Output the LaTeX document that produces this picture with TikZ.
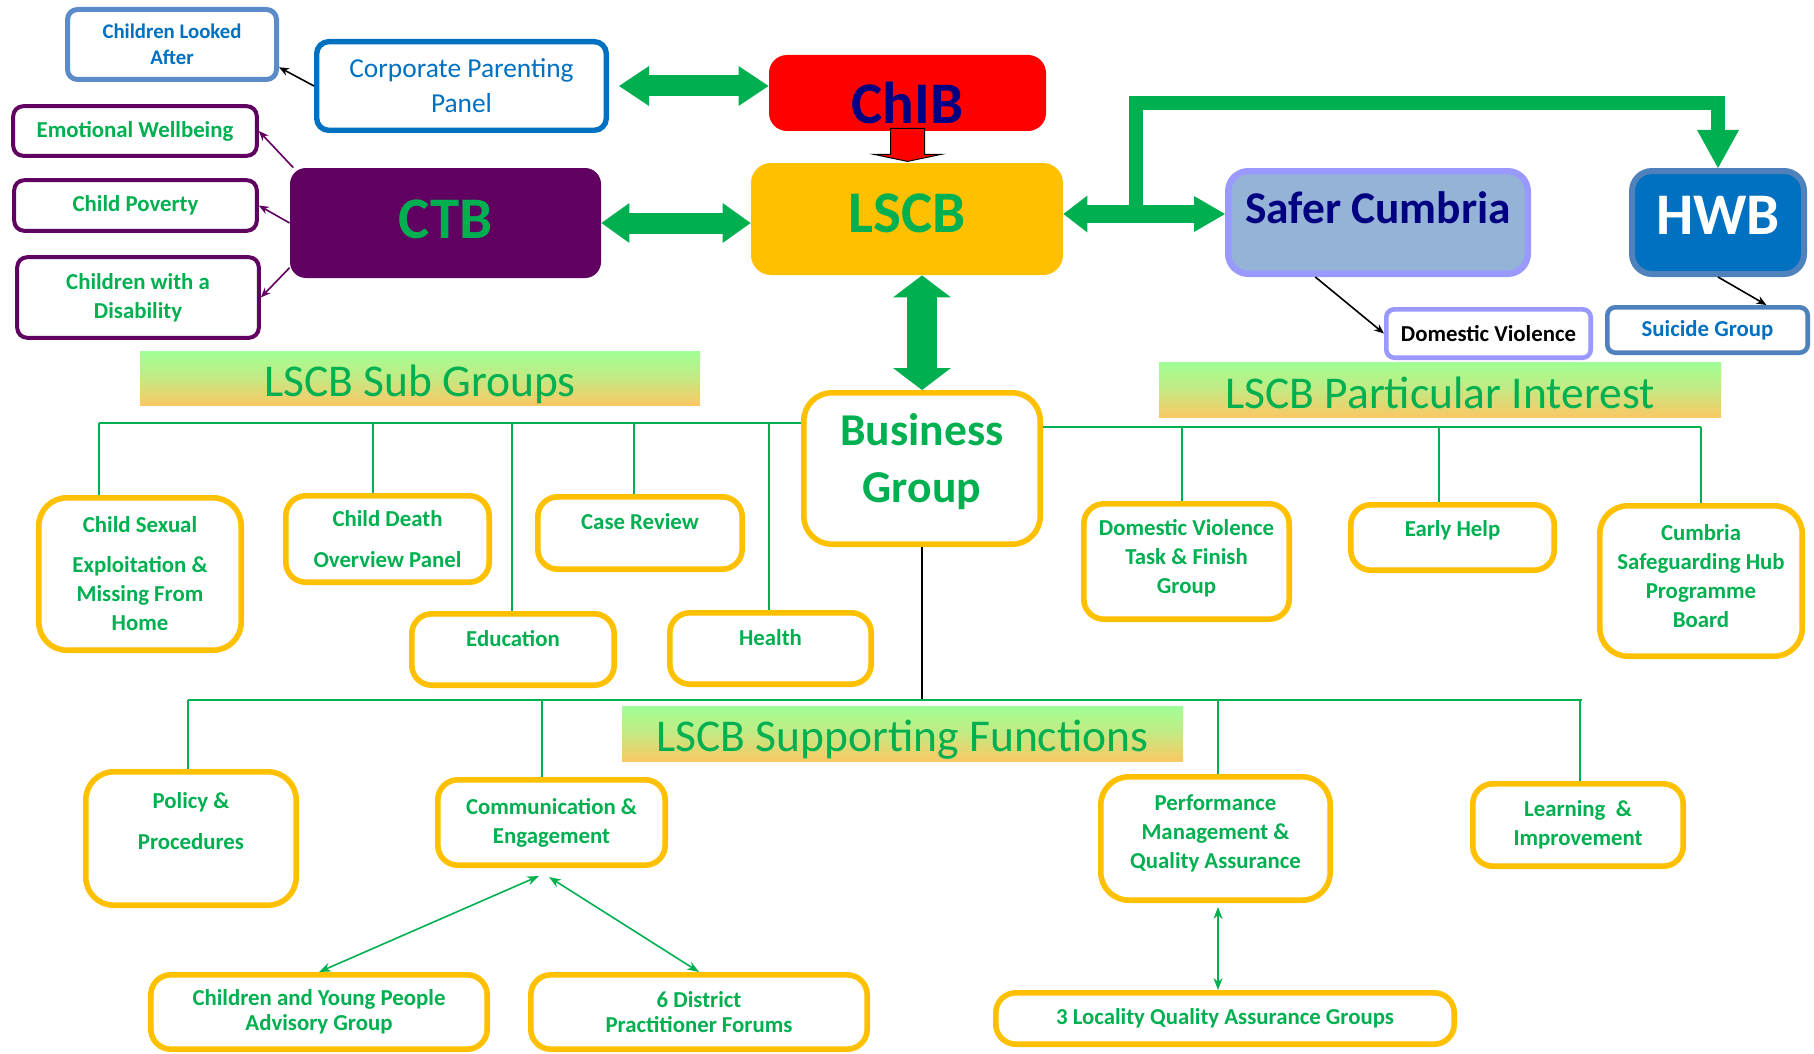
\documentclass[tikz,border=0pt]{standalone}
\usepackage{fontspec}
\setmainfont{Carlito}
\usepackage{tikz}
\usetikzlibrary{arrows.meta}

\definecolor{lscbgreen}{HTML}{00B050}
\definecolor{lscbyellow}{HTML}{FFC000}
\definecolor{ctbpurple}{HTML}{600060}
\definecolor{clablue}{HTML}{5B8BC8}
\definecolor{textblue}{HTML}{0070C0}
\definecolor{navytext}{HTML}{000080}
\definecolor{scfill}{HTML}{95B3D7}
\definecolor{scborder}{HTML}{9999FF}
\definecolor{hwbborder}{HTML}{4F81BD}
\definecolor{bannertop}{HTML}{A0FF96}
\definecolor{bannerbottom}{HTML}{FAC864}

\newcommand{\nudge}[2]{\raisebox{#1}[\height][\depth]{#2}}
\newcommand{\deeper}[1]{\rule[-#1]{0pt}{#1}}
\newcommand{\branch}[2]{
  \draw [treeline] (#1) to (#2)
}

\tikzset{
  subbox/.style={draw=lscbyellow, line width=2.8pt, rounded corners=10pt,
    fill=white, align=center, text=lscbgreen, inner sep=0pt,
    font=\fontsize{11.4}{14.5}\selectfont\bfseries},
  ctbbox/.style={draw=ctbpurple, line width=2pt, rounded corners=5pt,
    fill=white, align=center, text=lscbgreen, inner sep=0pt,
    font=\fontsize{11.4}{14.5}\selectfont\bfseries},
  bigbox/.style={rounded corners=9pt, inner sep=0pt,
    font=\fontsize{29.5}{34}\selectfont\bfseries},
  smallbox/.style={line width=2.3pt, rounded corners=4pt, fill=white,
    inner sep=0pt, font=\fontsize{11.4}{14}\selectfont\bfseries},
  banner/.style={top color=bannertop, bottom color=bannerbottom,
    middle color=bannertop!60!bannerbottom, inner sep=0pt, text=lscbgreen,
    font=\fontsize{22.75}{26}\selectfont},
  fat/.style={draw=lscbgreen, line join=miter},
  treeline/.style={draw=lscbgreen, line width=0.7pt},
  thinarrow/.style={line width=0.8pt, -{Stealth[length=5pt,width=4pt]}},
  twoway/.style={draw=lscbgreen, line width=0.8pt,
    {Stealth[length=6pt,width=4.5pt]}-{Stealth[length=6pt,width=4.5pt]}},
}

\begin{document}
\begin{tikzpicture}[x=0.5pt, y=-0.5pt]
\useasboundingbox (0,0) rectangle (1814,1054);

% boards
\node[bigbox, fill=red, text=navytext, minimum width=138.5pt, minimum height=38pt]
  (chib) at ( 907.5,  93) {\nudge{-5pt}{ChIB}};
\node[bigbox, fill=lscbyellow, text=lscbgreen, rounded corners=10pt,
  minimum width=156pt, minimum height=56pt]
  (lscb) at ( 907  , 219) {\nudge{3pt}{LSCB}};
\node[bigbox, fill=ctbpurple, text=lscbgreen, rounded corners=8pt,
  minimum width=155.5pt, minimum height=55pt]
  (ctb)  at ( 445.5, 223) {\nudge{1.8pt}{CTB}};
\node[bigbox, fill=scfill, draw=scborder, line width=3.2pt, text=navytext,
  rounded corners=10pt, font=\fontsize{22.7}{27}\selectfont\bfseries,
  minimum width=149.8pt, minimum height=51.3pt]
  (sc)   at (1378  , 222.5) {\nudge{7.3pt}{Safer Cumbria}};
\node[bigbox, fill=textblue, draw=hwbborder, line width=3pt, text=white,
  rounded corners=10pt, minimum width=86pt, minimum height=51.5pt]
  (hwb)  at (1718  , 222.5) {\nudge{3.4pt}{HWB}};

% corporate parenting
\node[draw=textblue, line width=2.7pt, rounded corners=6pt, align=center,
  text=textblue, inner sep=0pt, font=\fontsize{13.7}{17.4}\selectfont,
  minimum width=144.8pt, minimum height=44.3pt]
  (cpp) at ( 461.5,  86) {Corporate Parenting\\Panel};
\node[draw=clablue, line width=2.5pt, rounded corners=5pt, align=center,
  text=textblue, inner sep=0pt, font=\fontsize{10.4}{13}\selectfont\bfseries,
  minimum width=104.5pt, minimum height=35pt]
  (cla) at ( 172  ,  44.5) {Children Looked\\After};

% kids of CTB
\node[ctbbox, minimum width=121.8pt, minimum height=24.8pt]
  (ew)  at ( 135  , 131) {Emotional Wellbeing};
\node[ctbbox, minimum width=121.3pt, minimum height=25.3pt]
  (cp)  at ( 135.5, 205.5) {Child Poverty};
\node[ctbbox, minimum width=120.8pt, minimum height=40.3pt]
  (cwd) at ( 138  , 297.5) {Children with a\\Disability};

% kids of Safer Cumbria and HWB
\node[smallbox, draw=scborder, minimum width=102.2pt, minimum height=24.2pt]
  (dv) at (1488.5, 333.5) {Domestic Violence};
\node[smallbox, draw=hwbborder, text=textblue, minimum width=100.2pt, minimum height=22.7pt]
  (sg) at (1707.5, 330) {Suicide Group};

% banners
\node[banner, minimum width=280pt, minimum height=27pt]
  (subhead)  at ( 420  , 378) {\nudge{-3pt}{LSCB Sub Groups}};
\node[banner, minimum width=281pt, minimum height=27.5pt]
  (parthead) at (1440  , 389.5) {\nudge{-1.5pt}{LSCB Particular Interest}};
\node[banner, minimum width=280.5pt, minimum height=27.5pt]
  (supphead) at ( 902.5, 733.5) {\nudge{-3pt}{LSCB Supporting Functions}};

% business group
\node[subbox, rounded corners=14pt, font=\fontsize{22.8}{28.5}\selectfont\bfseries,
  minimum width=118.2pt, minimum height=75.7pt]
  (bus) at ( 922  , 468.5) {Business\\Group\deeper{11pt}};

% sub groups
\node[subbox, rounded corners=14pt, minimum width=101.2pt, minimum height=76.2pt]
  (cse)  at ( 140  , 574) {Child Sexual\\[5.5pt]Exploitation \&\\Missing From\\Home};
\node[subbox, minimum width=101.7pt, minimum height=43.2pt]
  (cdop) at ( 387.5, 539) {Child Death\\[6pt]Overview Panel};
\node[subbox, minimum width=102.2pt, minimum height=36.2pt]
  (cr)   at ( 640  , 533) {Case Review\\[-3pt]~};
\node[subbox, minimum width=101.2pt, minimum height=35.7pt]
  (edu)  at ( 513  , 649.5) {Education\\[-3pt]~};
\node[subbox, minimum width=100.7pt, minimum height=35.7pt]
  (hlth) at ( 770.5, 648.5) {Health\\[-3pt]~};

% particular interest
\node[subbox, minimum width=102.7pt, minimum height=57.7pt]
  (dvtf)  at (1186.5, 561.5) {Domestic Violence\\Task \& Finish\\Group\deeper{5.5pt}};
\node[subbox, minimum width=101.7pt, minimum height=32.7pt]
  (eh)    at (1452.5, 537.5) {Early Help\\[-5pt]~};
\node[subbox, rounded corners=14pt, minimum width=101.2pt, minimum height=75.2pt]
  (cshpb) at (1701  , 581) {Cumbria\\Safeguarding Hub\\Programme\\Board\deeper{4.6pt}};

% supporting functions
\node[subbox, rounded corners=14pt, minimum width=105.2pt, minimum height=66.7pt]
  (pp)   at ( 191  , 838.5) {Policy \&\\[6pt]Procedures\\[3.5pt]~};
\node[subbox, minimum width=113.7pt, minimum height=42.7pt]
  (ce)   at ( 551.5, 822.5) {Communication \&\\Engagement};
\node[subbox, rounded corners=14pt, minimum width=114.7pt, minimum height=61.7pt]
  (pmqa) at (1215.5, 838.5) {Performance\\Management \&\\Quality Assurance\deeper{7pt}};
\node[subbox, minimum width=105.2pt, minimum height=41.2pt]
  (li)   at (1578  , 825) {Learning~~\&\\Improvement};

% kids of supporting functions
\node[subbox, minimum width=168.2pt, minimum height=37.2pt]
  (cyp) at ( 319  ,1012) {Children and Young People\\[-2pt]Advisory Group};
\node[subbox, minimum width=168.2pt, minimum height=37.2pt]
  (sdf) at ( 699  ,1012) {6 District\\[-2pt]Practitioner Forums};
\node[subbox, minimum width=229.2pt, minimum height=25.7pt]
  (lqa) at (1225  ,1018.5) {3 Locality Quality Assurance Groups};

% fat arrows between boards
\draw[fat, line width=10.5pt, shorten <=5pt,
  {Triangle[length=15pt,width=20pt,line width=0pt]}-{Triangle[length=15pt,width=20pt,line width=0pt]}]
  (cpp.east) -- (cpp.east -| chib.west);
\draw[fat, line width=10.5pt,
  {Triangle[length=14pt,width=20pt,line width=0pt]}-{Triangle[length=14pt,width=20pt,line width=0pt]}]
  (ctb.east) -- (ctb.east -| lscb.west);
\draw[fat, line width=15pt,
  {Triangle[length=11pt,width=29pt,line width=0pt]}-{Triangle[length=11pt,width=29pt,line width=0pt]}]
  (lscb.south -| bus.north) -- (bus.north);
\coordinate (fork) at (1136, 214);
\coordinate (bend) at (1136, 103);
\draw[fat, line width=9pt,
  {Triangle[length=12pt,width=18.5pt,line width=0pt]}-{Triangle[length=15.5pt,width=18pt,line width=0pt]}]
  (fork -| lscb.east) -- (fork -| sc.west);
\draw[fat, line width=7pt, -{Triangle[length=19pt,width=21pt,line width=0pt]}]
  (fork) -- (bend) -| (hwb.north);

% ChIB down to LSCB
\draw[fill=red, draw=black, line width=0.5pt, shift={(chib.south)}]
  (-17,-3) -- ++(0,26) -- ++(-16.5,0) -- ++(33.5,7) -- ++(33.5,-7)
  -- ++(-16.5,0) -- ++(0,-26) -- cycle;

% thin arrows
\draw[thinarrow, black] (cpp.west) -- (cla.-12);
\draw[thinarrow, ctbpurple] (ctb.160) -- (ew.east);
\draw[thinarrow, ctbpurple] (ctb.west) -- (cp.east);
\draw[thinarrow, ctbpurple] (ctb.196) -- (cwd.east);
\draw[thinarrow, black] (sc.221) -- (dv.west);
\draw[thinarrow, black] (hwb.south) -- (sg.23);

% sub groups bar
\coordinate (sgbar) at (99, 423);
\branch {sgbar} {sgbar -| bus.west};
\foreach \x/\n in {99/cse, 373/cdop, 512/edu, 634/cr, 769/hlth}
  \branch {\x,423} {\x,423 |- \n.north};

% particular interest bar
\coordinate (pibar) at (1701, 427);
\branch {bus.east |- pibar} {pibar};
\foreach \x/\n in {1182/dvtf, 1439/eh, 1701/cshpb}
  \branch {\x,427} {\x,427 |- \n.north};

% supporting functions bar
\coordinate (sfbar) at (188, 700);
\coordinate (sfend) at (1582, 700);
\draw[black, line width=0.7pt] (bus.south) -- (bus.south |- sfbar);
\branch {sfbar} {sfend};
\foreach \x/\n in {188/pp, 542/ce, 1218/pmqa, 1580/li}
  \branch {\x,700} {\x,700 |- \n.north};

% two way links
\coordinate (celeft)  at (539, 876);
\coordinate (ceright) at (549, 877);
\draw[twoway] (celeft) -- (cyp.north);
\draw[twoway] (ceright) -- (sdf.north);
\draw[twoway, shorten <=2pt] (pmqa.south -| 1218,0) -- (1218,0 |- lqa.north);

\end{tikzpicture}
\end{document}
